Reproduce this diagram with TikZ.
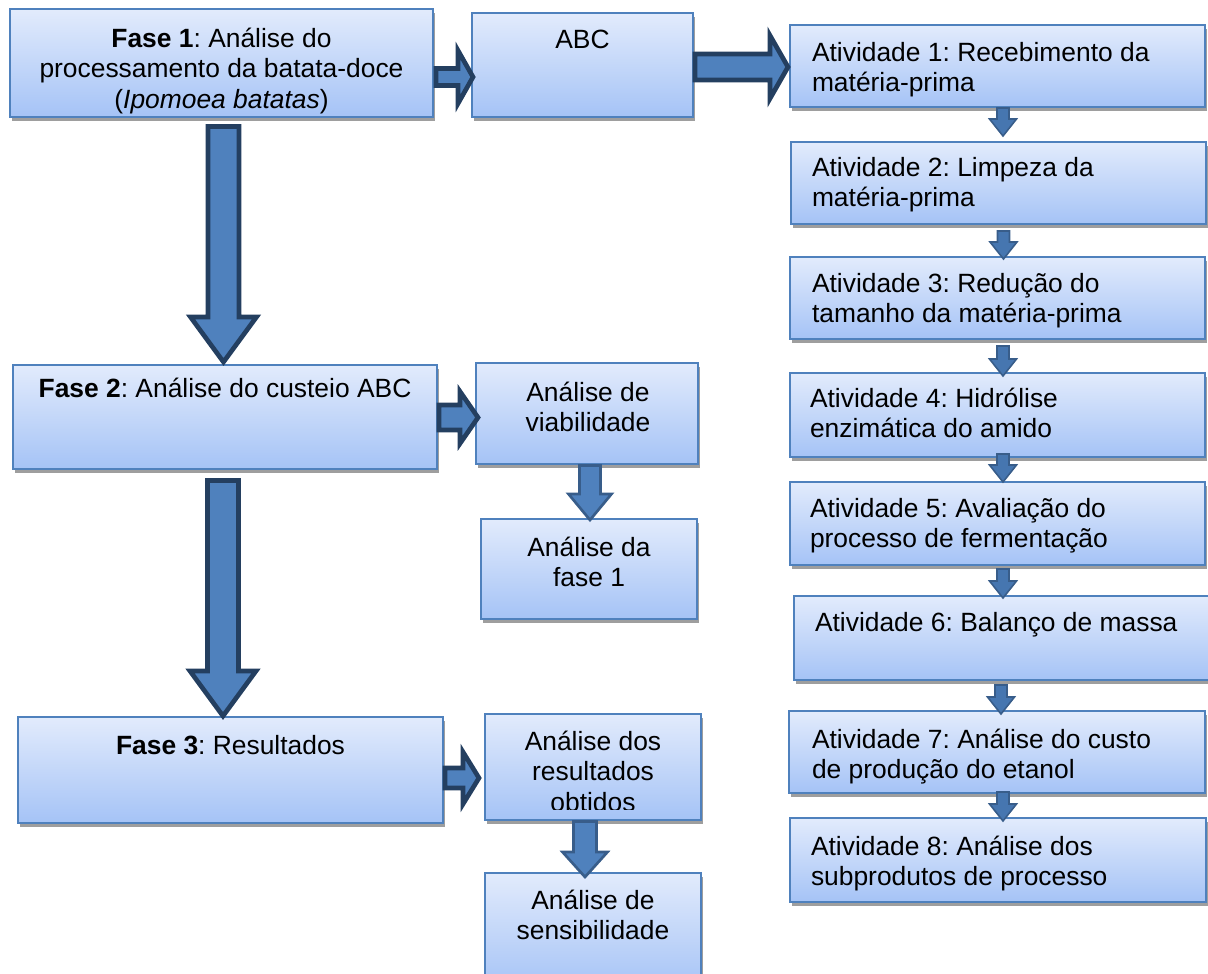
\documentclass[tikz,border=0pt]{standalone}
\usepackage{fontspec}
\setmainfont{Liberation Sans}
\usetikzlibrary{calc,shadows}
\frenchspacing

\definecolor{boxtop}{RGB}{226,235,252}
\definecolor{boxbot}{RGB}{165,195,246}
\definecolor{boxline}{RGB}{79,129,189}
\definecolor{shadowgray}{RGB}{158,158,158}
\definecolor{arrowfill}{RGB}{79,129,189}
\definecolor{darkline}{RGB}{36,63,96}
\definecolor{midline}{RGB}{56,93,138}
\definecolor{smallside}{RGB}{70,118,176}
\definecolor{smallmid}{RGB}{112,150,204}

\tikzset{
  box/.style={draw=boxline, line width=1.5pt, top color=boxtop, bottom color=boxbot,
    inner sep=0pt, outer sep=0pt,
    general shadow={fill=shadowgray, shadow xshift=1.5pt, shadow yshift=-3pt}},
  lbl/.style={inner sep=0pt, outer sep=0pt, font=\fontsize{19.8}{22.8}\selectfont, text=black},
  ctr/.style={lbl, align=center, anchor=north},
  lft/.style={lbl, align=left, anchor=north west},
  thickarrow/.style={draw=darkline, fill=arrowfill, line width=3.5pt, line join=miter},
  medarrow/.style={draw=midline, fill=arrowfill, line width=2pt, line join=miter},
  smallarrow/.style={draw=midline, line width=1.2pt, line join=miter,
    left color=smallside, middle color=smallmid, right color=smallside},
}

% box from left/top/right/bottom in pixel units (y grows downward)
\newcommand{\placebox}[5]{%
  \node[box, minimum width={(#4-#2)*0.75pt}, minimum height={(#5-#3)*0.75pt}]
    (#1) at ({(#2+#4)/2},{(#3+#5)/2}) {};}
% first-line strut so the text top is predictable
\newcommand{\fs}{\rule{0pt}{19pt}}

% block arrow pointing down: style, start (shaft top centre), tip, shaft half, head half, head length
\newcommand{\downblk}[6]{%
  \draw[#1] let \p1=(#2), \p2=(#3) in
    (\x1-#4*0.75pt,\y1) -- (\x1+#4*0.75pt,\y1) -- (\x1+#4*0.75pt,\y2+#6*0.75pt)
    -- (\x1+#5*0.75pt,\y2+#6*0.75pt) -- (\x1,\y2) -- (\x1-#5*0.75pt,\y2+#6*0.75pt)
    -- (\x1-#4*0.75pt,\y2+#6*0.75pt) -- cycle;}
% block arrow pointing right: style, start (x of shaft end), tip, shaft half, head half, head length
\newcommand{\rightblk}[6]{%
  \draw[#1] let \p1=(#2), \p2=(#3) in
    (\x1,\y2+#4*0.75pt) -- (\x2-#6*0.75pt,\y2+#4*0.75pt) -- (\x2-#6*0.75pt,\y2+#5*0.75pt)
    -- (\x2,\y2) -- (\x2-#6*0.75pt,\y2-#5*0.75pt) -- (\x2-#6*0.75pt,\y2-#4*0.75pt)
    -- (\x1,\y2-#4*0.75pt) -- cycle;}

\begin{document}
\begin{tikzpicture}[x=0.75pt, y=-0.75pt]
\useasboundingbox (0,0) rectangle (1208,974);
\clip (0,0) rectangle (1208,974);

% ---- boxes ----
\placebox{f1}{10}{9}{433}{117}
\placebox{abc}{472}{13}{693}{117}
\placebox{a1}{790}{25}{1205}{107}
\placebox{a2}{791}{142}{1206}{224}
\placebox{a3}{790}{257}{1205}{339}
\placebox{a4}{790}{373}{1205}{457}
\placebox{a5}{790}{482}{1205}{565}
\placebox{a6}{794}{596}{1212}{680}
\placebox{a7}{789}{711}{1205}{793}
\placebox{a8}{790}{818}{1206}{902}
\placebox{f2}{13}{365}{437}{469}
\placebox{av}{476}{363}{698}{464}
\placebox{af1}{481}{519}{697}{619}
\placebox{f3}{18}{717}{443}{823}
\placebox{ar}{485}{714}{701}{820}
\placebox{as}{485}{873}{701}{990}

% ---- texts ----
\node[ctr] (f1t) at ($(f1.north)+(0,13.2)$)
  {\fs\textbf{Fase 1}: Análise do\\processamento da batata-doce\\(\textit{Ipomoea batatas})};
\node[ctr] (abct) at ($(abc.north)+(0,10.2)$) {\fs ABC};
\node[lft] (a1t) at ($(a1.north west)+(22,11.2)$) {\fs Atividade 1: Recebimento da\\matéria-prima};
\node[lft] (a2t) at ($(a2.north west)+(21,9.2)$) {\fs Atividade 2: Limpeza da\\matéria-prima};
\node[lft] (a3t) at ($(a3.north west)+(22,10.2)$) {\fs Atividade 3: Redução do\\tamanho da matéria-prima};
\node[lft] (a4t) at ($(a4.north west)+(20,9.2)$) {\fs Atividade 4: Hidrólise\\enzimática do amido};
\node[lft] (a5t) at ($(a5.north west)+(20,10.2)$) {\fs Atividade 5: Avaliação do\\processo de fermentação};
\node[lft] (a6t) at ($(a6.north west)+(21,9.7)$) {\fs Atividade 6: Balanço de massa};
\node[lft] (a7t) at ($(a7.north west)+(23,11.7)$) {\fs Atividade 7: Análise do custo\\de produção do etanol};
\node[lft] (a8t) at ($(a8.north west)+(21,12.2)$) {\fs Atividade 8: Análise dos\\subprodutos de processo};
\node[ctr] (f2t) at ($(f2.north)+(0,7.2)$) {\fs\textbf{Fase 2}: Análise do custeio ABC};
\node[ctr] (avt) at ($(av.north)+(1,13.2)$) {\fs Análise de\\viabilidade};
\node[ctr] (af1t) at ($(af1.north)+(0,12.2)$) {\fs Análise da\\fase 1};
\node[ctr] (f3t) at ($(f3.north)+(0,12.2)$) {\fs\textbf{Fase 3}: Resultados};
\begin{scope}
  \clip (ar.north west) rectangle ($(ar.south east)+(0,-11)$);
  \node[ctr] (art) at ($(ar.north)+(0,11.2)$) {\fs Análise dos\\resultados\\obtidos};
\end{scope}
\node[ctr] (ast) at ($(as.north)+(0,11.2)$) {\fs Análise de\\sensibilidade};

% ---- large phase arrows ----
\coordinate (s1) at ($(f1.south)+(2,9.5)$);
\coordinate (e1) at ($(s1 |- f2.north)+(0,-3)$);
\downblk{thickarrow}{s1}{e1}{15.5}{33}{45}

\coordinate (s2) at ($(f2.south)+(-2,11.5)$);
\coordinate (e2) at ($(s2 |- f3.north)+(0,-1)$);
\downblk{thickarrow}{s2}{e2}{15.5}{33}{45}

% ---- horizontal arrows ----
\coordinate (s3) at ($(f1.east)+(3,0)$);
\coordinate (e3) at ($(abc.west)+(1,12)$);
\rightblk{thickarrow}{s3}{e3}{8.5}{26.5}{15}

\coordinate (s4) at ($(abc.east)+(2,0)$);
\coordinate (e4) at ($(a1.west)+(-2,1)$);
\rightblk{thickarrow}{s4}{e4}{13}{31.5}{18}

\coordinate (s5) at ($(f2.east)+(2,0)$);
\coordinate (e5) at ($(av.west)+(2,4)$);
\rightblk{thickarrow}{s5}{e5}{12.5}{26}{18}

\coordinate (s6) at ($(f3.east)+(2,0)$);
\coordinate (e6) at ($(ar.west)+(-6,11)$);
\rightblk{thickarrow}{s6}{e6}{10}{26}{16}

% ---- short vertical arrows in the middle column ----
\coordinate (s7) at ($(av.south)+(3,1.5)$);
\coordinate (e7) at ($(s7 |- af1.north)+(0,1)$);
\downblk{medarrow}{s7}{e7}{10.5}{21.5}{26}

\coordinate (s8) at ($(ar.south)+(-8,1.5)$);
\coordinate (e8) at ($(s8 |- as.north)+(0,4)$);
\downblk{medarrow}{s8}{e8}{11.5}{22.5}{25}

% ---- activity chain ----
\coordinate (t1) at ($(a1.south)+(5.5,1)$);
\coordinate (u1) at ($(t1 |- a2.north)+(0,-6)$);
\downblk{smallarrow}{t1}{u1}{6}{13.5}{17}
\coordinate (t2) at ($(a2.south)+(5,7)$);
\coordinate (u2) at ($(t2 |- a3.north)+(0,2)$);
\downblk{smallarrow}{t2}{u2}{6}{13.5}{17}
\coordinate (t3) at ($(a3.south)+(5.5,7)$);
\coordinate (u3) at ($(t3 |- a4.north)+(0,3)$);
\downblk{smallarrow}{t3}{u3}{6}{13.5}{17}
\coordinate (t4) at ($(a4.south)+(5.5,-3)$);
\coordinate (u4) at ($(t4 |- a5.north)+(0,0)$);
\downblk{smallarrow}{t4}{u4}{6}{13.5}{17}
\coordinate (t5) at ($(a5.south)+(5.5,4)$);
\coordinate (u5) at ($(t5 |- a6.north)+(0,2)$);
\downblk{smallarrow}{t5}{u5}{6}{13.5}{17}
\coordinate (t6) at ($(a6.south)+(-2,5)$);
\coordinate (u6) at ($(t6 |- a7.north)+(0,3)$);
\downblk{smallarrow}{t6}{u6}{6}{13.5}{17}
\coordinate (t7) at ($(a7.south)+(6,-1)$);
\coordinate (u7) at ($(t7 |- a8.north)+(0,3)$);
\downblk{smallarrow}{t7}{u7}{6}{13.5}{17}
\end{tikzpicture}
\end{document}
